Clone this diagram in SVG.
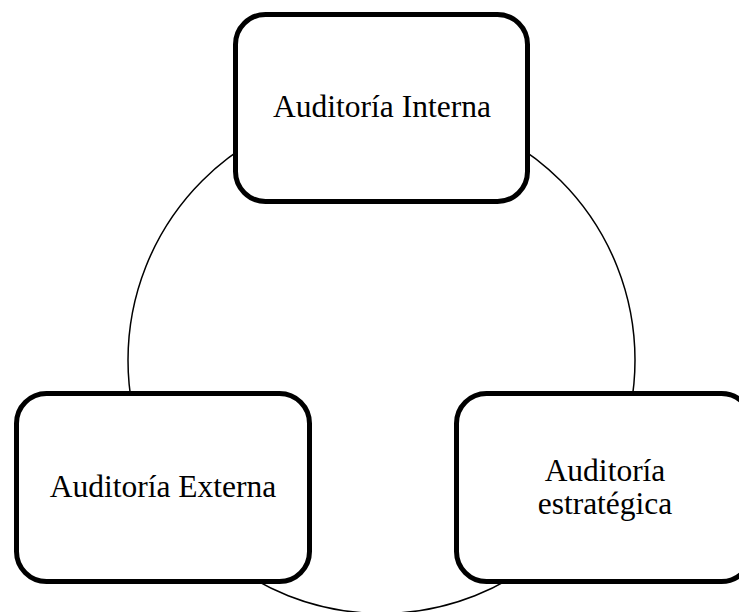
<svg xmlns="http://www.w3.org/2000/svg" width="739" height="612" viewBox="0 0 739 612">
<style>
.box{fill:#fff;stroke:#000;stroke-width:5}
.lbl{font-family:"Liberation Serif","Times New Roman",serif;font-size:31.5px;fill:#000;text-anchor:middle}
.ring{fill:none;stroke:#000;stroke-width:1.5}
</style>
<rect width="739" height="612" fill="#fff"/>
<g id="connectors">
<circle class="ring" cx="381.5" cy="360" r="253.5"/>
</g>
<g id="node-interna">
<rect class="box" x="235.5" y="14.5" width="292" height="187" rx="30"/>
<text class="lbl" x="382" y="117">Auditoría Interna</text>
</g>
<g id="node-externa">
<rect class="box" x="16.5" y="393.5" width="293" height="188" rx="30"/>
<text class="lbl" x="163" y="497">Auditoría Externa</text>
</g>
<g id="node-estrategica">
<rect class="box" x="456.5" y="393.5" width="295" height="188" rx="30"/>
<text class="lbl" x="605" y="481">Auditoría</text>
<text class="lbl" x="605" y="514">estratégica</text>
</g>
</svg>
